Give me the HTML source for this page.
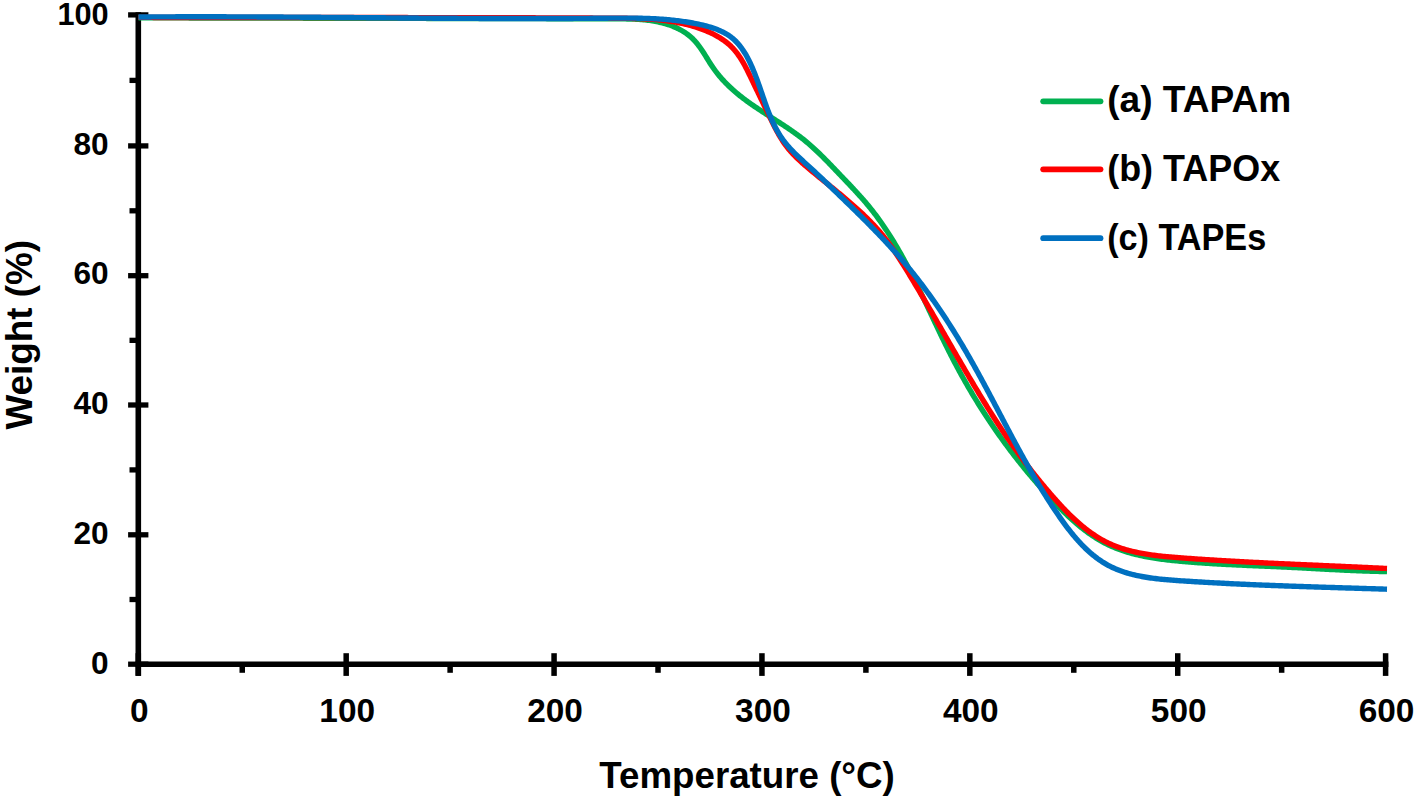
<!DOCTYPE html>
<html><head><meta charset="utf-8"><style>
html,body{margin:0;padding:0;background:#fff;}
body{width:1416px;height:799px;overflow:hidden;font-family:"Liberation Sans",sans-serif;}
svg{display:block;}
</style></head><body>
<svg width="1416" height="799" viewBox="0 0 1416 799">
<rect width="1416" height="799" fill="#fff"/>
<line x1="138.3" y1="12.3" x2="138.3" y2="675.6999999999999" stroke="#000" stroke-width="5.6"/>
<line x1="135.5" y1="664.3" x2="1388.3999999999999" y2="664.3" stroke="#000" stroke-width="5.6"/>
<line x1="128.1" y1="664.2" x2="148.4" y2="664.2" stroke="#000" stroke-width="5.3"/>
<line x1="128.1" y1="534.8" x2="148.4" y2="534.8" stroke="#000" stroke-width="5.3"/>
<line x1="128.1" y1="405.0" x2="148.4" y2="405.0" stroke="#000" stroke-width="5.3"/>
<line x1="128.1" y1="275.7" x2="148.4" y2="275.7" stroke="#000" stroke-width="5.3"/>
<line x1="128.1" y1="145.9" x2="148.4" y2="145.9" stroke="#000" stroke-width="5.3"/>
<line x1="128.1" y1="14.9" x2="148.4" y2="14.9" stroke="#000" stroke-width="5.3"/>
<line x1="129.5" y1="599.50" x2="138.3" y2="599.50" stroke="#000" stroke-width="5.3"/>
<line x1="129.5" y1="469.90" x2="138.3" y2="469.90" stroke="#000" stroke-width="5.3"/>
<line x1="129.5" y1="340.35" x2="138.3" y2="340.35" stroke="#000" stroke-width="5.3"/>
<line x1="129.5" y1="210.80" x2="138.3" y2="210.80" stroke="#000" stroke-width="5.3"/>
<line x1="129.5" y1="80.40" x2="138.3" y2="80.40" stroke="#000" stroke-width="5.3"/>
<line x1="138.30" y1="653.2" x2="138.30" y2="675.9" stroke="#000" stroke-width="5.5"/>
<line x1="346.18" y1="653.2" x2="346.18" y2="675.9" stroke="#000" stroke-width="5.5"/>
<line x1="554.07" y1="653.2" x2="554.07" y2="675.9" stroke="#000" stroke-width="5.5"/>
<line x1="761.95" y1="653.2" x2="761.95" y2="675.9" stroke="#000" stroke-width="5.5"/>
<line x1="969.83" y1="653.2" x2="969.83" y2="675.9" stroke="#000" stroke-width="5.5"/>
<line x1="1177.72" y1="653.2" x2="1177.72" y2="675.9" stroke="#000" stroke-width="5.5"/>
<line x1="1385.60" y1="653.2" x2="1385.60" y2="675.9" stroke="#000" stroke-width="5.5"/>
<line x1="242.24" y1="664.3" x2="242.24" y2="672.8" stroke="#000" stroke-width="5.5"/>
<line x1="450.12" y1="664.3" x2="450.12" y2="672.8" stroke="#000" stroke-width="5.5"/>
<line x1="658.01" y1="664.3" x2="658.01" y2="672.8" stroke="#000" stroke-width="5.5"/>
<line x1="865.89" y1="664.3" x2="865.89" y2="672.8" stroke="#000" stroke-width="5.5"/>
<line x1="1073.78" y1="664.3" x2="1073.78" y2="672.8" stroke="#000" stroke-width="5.5"/>
<line x1="1281.66" y1="664.3" x2="1281.66" y2="672.8" stroke="#000" stroke-width="5.5"/>
<path d="M138.50 17.80 L140.00 17.80 L141.50 17.81 L143.00 17.81 L144.50 17.82 L146.00 17.82 L147.50 17.82 L149.00 17.83 L150.50 17.83 L152.00 17.83 L153.50 17.84 L155.00 17.84 L156.50 17.85 L158.00 17.85 L159.50 17.85 L161.00 17.86 L162.50 17.86 L164.00 17.86 L165.50 17.87 L167.00 17.87 L168.50 17.88 L170.00 17.88 L171.50 17.88 L173.00 17.89 L174.50 17.89 L176.01 17.89 L177.51 17.90 L179.01 17.90 L180.51 17.90 L182.01 17.91 L183.51 17.91 L185.01 17.92 L186.52 17.92 L188.02 17.92 L189.52 17.93 L191.02 17.93 L192.52 17.93 L194.03 17.94 L195.53 17.94 L197.03 17.94 L198.53 17.95 L200.03 17.95 L201.54 17.95 L203.04 17.96 L204.54 17.96 L206.04 17.96 L207.55 17.97 L209.05 17.97 L210.55 17.98 L212.05 17.98 L213.56 17.98 L215.06 17.99 L216.56 17.99 L218.06 17.99 L219.57 18.00 L221.07 18.00 L222.57 18.00 L224.08 18.01 L225.58 18.01 L227.08 18.01 L228.58 18.02 L230.09 18.02 L231.59 18.02 L233.09 18.03 L234.60 18.03 L236.10 18.03 L237.60 18.04 L239.11 18.04 L240.61 18.04 L242.11 18.05 L243.62 18.05 L245.12 18.05 L246.62 18.06 L248.13 18.06 L249.63 18.06 L251.13 18.07 L252.64 18.07 L254.14 18.07 L255.64 18.08 L257.15 18.08 L258.65 18.08 L260.15 18.08 L261.66 18.09 L263.16 18.09 L264.67 18.09 L266.17 18.10 L267.67 18.10 L269.18 18.10 L270.68 18.11 L272.18 18.11 L273.69 18.11 L275.19 18.12 L276.69 18.12 L278.20 18.12 L279.70 18.13 L281.20 18.13 L282.71 18.13 L284.21 18.14 L285.72 18.14 L287.22 18.14 L288.72 18.15 L290.23 18.15 L291.73 18.15 L293.23 18.15 L294.74 18.16 L296.24 18.16 L297.74 18.16 L299.25 18.17 L300.75 18.17 L302.25 18.17 L303.76 18.18 L305.26 18.18 L306.76 18.18 L308.27 18.19 L309.77 18.19 L311.27 18.19 L312.78 18.20 L314.28 18.20 L315.78 18.20 L317.29 18.20 L318.79 18.21 L320.29 18.21 L321.80 18.21 L323.30 18.22 L324.80 18.22 L326.31 18.22 L327.81 18.23 L329.31 18.23 L330.82 18.23 L332.32 18.24 L333.82 18.24 L335.32 18.24 L336.83 18.24 L338.33 18.25 L339.83 18.25 L341.34 18.25 L342.84 18.26 L344.34 18.26 L345.84 18.26 L347.35 18.27 L348.85 18.27 L350.35 18.27 L351.85 18.27 L353.35 18.28 L354.86 18.28 L356.36 18.28 L357.86 18.29 L359.36 18.29 L360.87 18.29 L362.37 18.30 L363.87 18.30 L365.37 18.30 L366.87 18.31 L368.37 18.31 L369.88 18.31 L371.38 18.31 L372.88 18.32 L374.38 18.32 L375.88 18.32 L377.38 18.33 L378.88 18.33 L380.39 18.33 L381.89 18.34 L383.39 18.34 L384.89 18.34 L386.39 18.34 L387.89 18.35 L389.39 18.35 L390.89 18.35 L392.39 18.36 L393.89 18.36 L395.39 18.36 L396.89 18.37 L398.39 18.37 L399.89 18.37 L401.39 18.38 L402.89 18.38 L404.39 18.38 L405.89 18.38 L407.39 18.39 L408.89 18.39 L410.39 18.39 L411.89 18.40 L413.39 18.40 L414.89 18.40 L416.39 18.41 L417.89 18.41 L419.39 18.41 L420.89 18.41 L422.39 18.42 L423.89 18.42 L425.39 18.42 L426.89 18.43 L428.39 18.43 L429.89 18.43 L431.39 18.44 L432.89 18.44 L434.39 18.44 L435.89 18.45 L437.39 18.45 L438.89 18.45 L440.39 18.45 L441.88 18.46 L443.38 18.46 L444.88 18.46 L446.38 18.47 L447.88 18.47 L449.38 18.47 L450.88 18.48 L452.38 18.48 L453.88 18.48 L455.38 18.49 L456.88 18.49 L458.38 18.49 L459.88 18.49 L461.38 18.50 L462.88 18.50 L464.38 18.50 L465.88 18.51 L467.38 18.51 L468.88 18.51 L470.38 18.52 L471.88 18.52 L473.38 18.52 L474.88 18.53 L476.38 18.53 L477.88 18.53 L479.38 18.54 L480.88 18.54 L482.38 18.54 L483.88 18.54 L485.38 18.55 L486.88 18.55 L488.38 18.55 L489.88 18.56 L491.38 18.56 L492.88 18.56 L494.38 18.57 L495.88 18.57 L497.38 18.57 L498.89 18.58 L500.39 18.58 L501.89 18.58 L503.39 18.59 L504.89 18.59 L506.39 18.59 L507.89 18.59 L509.39 18.60 L510.90 18.60 L512.40 18.60 L513.90 18.61 L515.40 18.61 L516.90 18.61 L518.41 18.62 L519.91 18.62 L521.41 18.62 L522.91 18.63 L524.42 18.63 L525.92 18.63 L527.42 18.64 L528.93 18.64 L530.43 18.64 L531.93 18.65 L533.44 18.65 L534.94 18.65 L536.44 18.66 L537.95 18.66 L539.45 18.66 L540.95 18.67 L542.46 18.67 L543.96 18.67 L545.47 18.67 L546.97 18.68 L548.48 18.68 L549.98 18.68 L551.49 18.69 L552.99 18.69 L554.50 18.69 L556.00 18.70 L557.51 18.70 L559.02 18.70 L560.52 18.71 L562.03 18.71 L563.53 18.71 L565.04 18.72 L566.55 18.72 L568.05 18.72 L569.56 18.73 L571.07 18.73 L572.58 18.73 L574.08 18.74 L575.59 18.74 L577.10 18.74 L578.61 18.75 L580.12 18.75 L581.63 18.75 L583.13 18.76 L584.64 18.76 L586.15 18.76 L587.66 18.77 L589.17 18.77 L590.68 18.77 L592.19 18.78 L593.70 18.78 L595.21 18.78 L596.72 18.79 L598.23 18.79 L599.74 18.79 L601.26 18.80 L602.77 18.80 L604.28 18.80 L605.79 18.81 L607.30 18.81 L608.82 18.81 L610.33 18.82 L611.84 18.82 L613.35 18.82 L614.87 18.83 L616.38 18.83 L617.90 18.84 L619.41 18.84 L620.92 18.85 L622.43 18.87 L623.95 18.88 L625.46 18.91 L626.97 18.93 L628.47 18.97 L629.98 19.01 L631.49 19.05 L632.99 19.11 L634.49 19.17 L635.99 19.24 L637.49 19.33 L638.98 19.42 L640.48 19.53 L641.97 19.64 L643.45 19.77 L644.94 19.92 L646.42 20.07 L647.90 20.25 L649.37 20.44 L650.84 20.64 L652.31 20.86 L653.77 21.10 L655.23 21.35 L656.68 21.63 L658.13 21.92 L659.57 22.24 L661.01 22.57 L662.45 22.93 L663.88 23.31 L665.30 23.71 L666.72 24.14 L668.13 24.59 L669.53 25.06 L670.93 25.56 L672.31 26.08 L673.68 26.63 L675.04 27.20 L676.38 27.81 L677.71 28.43 L679.03 29.09 L680.33 29.77 L681.61 30.49 L682.87 31.23 L684.11 32.00 L685.33 32.80 L686.54 33.63 L687.71 34.49 L688.87 35.38 L690.00 36.31 L691.10 37.26 L692.18 38.25 L693.23 39.27 L694.25 40.33 L695.25 41.41 L696.22 42.53 L697.16 43.67 L698.08 44.85 L698.99 46.04 L699.87 47.25 L700.74 48.49 L701.59 49.74 L702.43 51.01 L703.27 52.29 L704.09 53.57 L704.91 54.87 L705.72 56.18 L706.53 57.48 L707.34 58.79 L708.15 60.10 L708.96 61.41 L709.78 62.71 L710.61 64.00 L711.44 65.28 L712.29 66.56 L713.15 67.81 L714.03 69.06 L714.92 70.29 L715.82 71.50 L716.74 72.70 L717.67 73.88 L718.62 75.05 L719.57 76.20 L720.55 77.34 L721.53 78.47 L722.53 79.58 L723.54 80.69 L724.56 81.77 L725.59 82.85 L726.64 83.91 L727.69 84.96 L728.76 86.00 L729.84 87.03 L730.93 88.04 L732.03 89.05 L733.14 90.04 L734.26 91.03 L735.39 92.00 L736.52 92.97 L737.67 93.92 L738.83 94.86 L739.99 95.80 L741.16 96.73 L742.34 97.64 L743.53 98.55 L744.73 99.45 L745.93 100.35 L747.14 101.23 L748.35 102.11 L749.57 102.99 L750.80 103.85 L752.03 104.71 L753.27 105.57 L754.51 106.42 L755.76 107.26 L757.01 108.10 L758.27 108.94 L759.53 109.77 L760.79 110.60 L762.05 111.43 L763.32 112.25 L764.59 113.07 L765.86 113.89 L767.13 114.71 L768.40 115.52 L769.68 116.34 L770.95 117.15 L772.23 117.96 L773.50 118.78 L774.78 119.59 L776.05 120.41 L777.32 121.22 L778.59 122.04 L779.86 122.86 L781.13 123.68 L782.39 124.50 L783.65 125.33 L784.91 126.16 L786.17 126.99 L787.42 127.83 L788.67 128.67 L789.91 129.52 L791.15 130.37 L792.38 131.23 L793.61 132.09 L794.83 132.96 L796.04 133.83 L797.25 134.71 L798.46 135.60 L799.65 136.50 L800.84 137.40 L802.02 138.31 L803.19 139.23 L804.36 140.16 L805.51 141.10 L806.66 142.05 L807.80 143.00 L808.93 143.97 L810.05 144.94 L811.17 145.92 L812.28 146.91 L813.38 147.91 L814.47 148.91 L815.56 149.92 L816.65 150.94 L817.72 151.96 L818.80 152.99 L819.87 154.03 L820.93 155.07 L821.99 156.11 L823.04 157.17 L824.10 158.22 L825.15 159.28 L826.19 160.34 L827.24 161.41 L828.28 162.48 L829.32 163.55 L830.36 164.63 L831.39 165.71 L832.43 166.79 L833.47 167.88 L834.50 168.96 L835.54 170.05 L836.57 171.14 L837.61 172.22 L838.65 173.31 L839.69 174.40 L840.73 175.49 L841.77 176.58 L842.81 177.67 L843.85 178.76 L844.90 179.86 L845.94 180.95 L846.98 182.04 L848.03 183.14 L849.07 184.23 L850.11 185.33 L851.14 186.43 L852.18 187.53 L853.21 188.64 L854.25 189.74 L855.27 190.85 L856.30 191.97 L857.32 193.08 L858.34 194.20 L859.35 195.32 L860.36 196.44 L861.36 197.57 L862.36 198.70 L863.35 199.83 L864.34 200.97 L865.32 202.12 L866.30 203.26 L867.27 204.42 L868.23 205.57 L869.18 206.73 L870.13 207.90 L871.06 209.07 L872.00 210.25 L872.92 211.43 L873.84 212.61 L874.75 213.80 L875.65 214.99 L876.55 216.19 L877.44 217.39 L878.32 218.60 L879.20 219.81 L880.07 221.02 L880.94 222.24 L881.80 223.47 L882.65 224.69 L883.50 225.92 L884.34 227.16 L885.17 228.40 L886.00 229.64 L886.82 230.88 L887.64 232.13 L888.45 233.39 L889.26 234.64 L890.06 235.90 L890.86 237.17 L891.65 238.43 L892.43 239.70 L893.22 240.98 L893.99 242.25 L894.76 243.53 L895.53 244.82 L896.29 246.10 L897.05 247.39 L897.80 248.68 L898.55 249.98 L899.30 251.27 L900.04 252.57 L900.77 253.88 L901.50 255.18 L902.23 256.49 L902.96 257.80 L903.68 259.11 L904.39 260.43 L905.11 261.75 L905.82 263.06 L906.53 264.39 L907.23 265.71 L907.93 267.04 L908.63 268.36 L909.32 269.69 L910.01 271.03 L910.70 272.36 L911.39 273.70 L912.07 275.03 L912.75 276.37 L913.43 277.71 L914.10 279.05 L914.77 280.40 L915.45 281.74 L916.11 283.09 L916.78 284.44 L917.45 285.79 L918.11 287.14 L918.77 288.49 L919.43 289.84 L920.09 291.20 L920.74 292.55 L921.40 293.91 L922.05 295.26 L922.70 296.62 L923.35 297.98 L924.00 299.34 L924.65 300.70 L925.30 302.06 L925.95 303.42 L926.59 304.78 L927.24 306.14 L927.89 307.50 L928.53 308.87 L929.17 310.23 L929.82 311.59 L930.46 312.95 L931.11 314.32 L931.75 315.68 L932.39 317.04 L933.04 318.41 L933.68 319.77 L934.33 321.13 L934.97 322.49 L935.62 323.86 L936.26 325.22 L936.91 326.58 L937.56 327.94 L938.20 329.30 L938.85 330.66 L939.50 332.02 L940.16 333.38 L940.81 334.73 L941.46 336.09 L942.12 337.45 L942.77 338.80 L943.43 340.15 L944.09 341.51 L944.75 342.86 L945.42 344.21 L946.08 345.56 L946.75 346.91 L947.42 348.25 L948.09 349.60 L948.77 350.94 L949.44 352.28 L950.12 353.62 L950.80 354.96 L951.49 356.30 L952.17 357.63 L952.86 358.97 L953.55 360.30 L954.25 361.63 L954.95 362.96 L955.65 364.28 L956.35 365.61 L957.06 366.93 L957.77 368.25 L958.48 369.57 L959.19 370.89 L959.91 372.20 L960.63 373.52 L961.35 374.83 L962.08 376.14 L962.81 377.45 L963.54 378.75 L964.27 380.06 L965.01 381.36 L965.75 382.66 L966.50 383.96 L967.24 385.26 L967.99 386.55 L968.74 387.85 L969.50 389.14 L970.25 390.43 L971.01 391.71 L971.78 393.00 L972.54 394.28 L973.31 395.57 L974.09 396.85 L974.86 398.12 L975.64 399.40 L976.42 400.67 L977.20 401.95 L977.99 403.22 L978.78 404.49 L979.57 405.75 L980.37 407.02 L981.17 408.28 L981.97 409.54 L982.77 410.80 L983.58 412.06 L984.39 413.31 L985.20 414.57 L986.02 415.82 L986.84 417.07 L987.66 418.31 L988.48 419.56 L989.31 420.80 L990.14 422.04 L990.98 423.28 L991.81 424.52 L992.65 425.76 L993.50 426.99 L994.34 428.22 L995.19 429.45 L996.04 430.68 L996.90 431.91 L997.76 433.13 L998.62 434.35 L999.48 435.57 L1000.35 436.79 L1001.22 438.01 L1002.09 439.22 L1002.97 440.44 L1003.85 441.65 L1004.73 442.85 L1005.61 444.06 L1006.50 445.26 L1007.39 446.47 L1008.29 447.67 L1009.19 448.86 L1010.09 450.06 L1010.99 451.26 L1011.90 452.45 L1012.81 453.64 L1013.72 454.83 L1014.64 456.01 L1015.55 457.20 L1016.48 458.38 L1017.40 459.56 L1018.33 460.74 L1019.26 461.91 L1020.20 463.09 L1021.13 464.26 L1022.07 465.43 L1023.02 466.60 L1023.97 467.76 L1024.92 468.93 L1025.87 470.09 L1026.83 471.25 L1027.79 472.40 L1028.75 473.56 L1029.71 474.71 L1030.68 475.86 L1031.65 477.01 L1032.63 478.16 L1033.61 479.31 L1034.59 480.45 L1035.58 481.59 L1036.56 482.73 L1037.55 483.87 L1038.55 485.00 L1039.55 486.13 L1040.55 487.26 L1041.55 488.39 L1042.56 489.52 L1043.57 490.64 L1044.58 491.76 L1045.60 492.88 L1046.62 494.00 L1047.64 495.12 L1048.67 496.23 L1049.70 497.34 L1050.73 498.45 L1051.77 499.56 L1052.81 500.66 L1053.85 501.77 L1054.90 502.87 L1055.95 503.96 L1057.00 505.05 L1058.06 506.14 L1059.12 507.22 L1060.19 508.30 L1061.26 509.38 L1062.33 510.45 L1063.41 511.51 L1064.49 512.57 L1065.58 513.62 L1066.67 514.67 L1067.77 515.71 L1068.87 516.74 L1069.98 517.77 L1071.09 518.78 L1072.21 519.79 L1073.33 520.80 L1074.46 521.79 L1075.59 522.77 L1076.73 523.75 L1077.88 524.72 L1079.03 525.67 L1080.19 526.62 L1081.35 527.56 L1082.52 528.48 L1083.69 529.40 L1084.88 530.30 L1086.06 531.20 L1087.26 532.08 L1088.46 532.95 L1089.67 533.81 L1090.88 534.65 L1092.11 535.48 L1093.34 536.30 L1094.57 537.11 L1095.82 537.90 L1097.07 538.68 L1098.33 539.44 L1099.59 540.19 L1100.87 540.92 L1102.15 541.64 L1103.44 542.34 L1104.74 543.03 L1106.04 543.70 L1107.36 544.36 L1108.68 544.99 L1110.01 545.62 L1111.35 546.22 L1112.70 546.81 L1114.06 547.38 L1115.42 547.94 L1116.79 548.48 L1118.16 549.01 L1119.55 549.52 L1120.94 550.02 L1122.34 550.51 L1123.74 550.98 L1125.15 551.43 L1126.57 551.88 L1127.99 552.31 L1129.42 552.72 L1130.85 553.13 L1132.29 553.52 L1133.73 553.90 L1135.18 554.27 L1136.64 554.63 L1138.09 554.97 L1139.56 555.31 L1141.02 555.63 L1142.50 555.95 L1143.97 556.25 L1145.45 556.55 L1146.93 556.83 L1148.42 557.11 L1149.91 557.37 L1151.40 557.63 L1152.89 557.88 L1154.39 558.12 L1155.89 558.35 L1157.39 558.58 L1158.90 558.80 L1160.40 559.01 L1161.91 559.21 L1163.42 559.41 L1164.93 559.60 L1166.44 559.78 L1167.96 559.96 L1169.47 560.13 L1170.99 560.30 L1172.50 560.46 L1174.02 560.62 L1175.53 560.78 L1177.05 560.93 L1178.56 561.07 L1180.08 561.21 L1181.59 561.35 L1183.10 561.49 L1184.62 561.62 L1186.13 561.75 L1187.64 561.88 L1189.15 562.00 L1190.66 562.13 L1192.16 562.25 L1193.67 562.36 L1195.17 562.48 L1196.68 562.59 L1198.18 562.70 L1199.69 562.81 L1201.19 562.92 L1202.69 563.02 L1204.19 563.12 L1205.69 563.22 L1207.19 563.32 L1208.69 563.42 L1210.19 563.51 L1211.68 563.60 L1213.18 563.69 L1214.68 563.78 L1216.17 563.87 L1217.67 563.96 L1219.16 564.04 L1220.66 564.12 L1222.15 564.20 L1223.64 564.28 L1225.14 564.36 L1226.63 564.44 L1228.12 564.52 L1229.61 564.59 L1231.11 564.67 L1232.60 564.74 L1234.09 564.81 L1235.58 564.88 L1237.07 564.95 L1238.56 565.02 L1240.05 565.09 L1241.54 565.16 L1243.03 565.23 L1244.52 565.29 L1246.01 565.36 L1247.50 565.43 L1248.99 565.49 L1250.48 565.56 L1251.97 565.62 L1253.47 565.69 L1254.96 565.75 L1256.45 565.82 L1257.94 565.88 L1259.43 565.94 L1260.92 566.01 L1262.41 566.07 L1263.90 566.14 L1265.40 566.20 L1266.89 566.26 L1268.38 566.33 L1269.87 566.39 L1271.37 566.46 L1272.86 566.53 L1274.36 566.59 L1275.85 566.66 L1277.35 566.73 L1278.84 566.79 L1280.34 566.86 L1281.84 566.93 L1283.33 567.00 L1284.83 567.07 L1286.33 567.15 L1287.83 567.22 L1289.33 567.29 L1290.83 567.37 L1292.33 567.44 L1293.83 567.52 L1295.34 567.60 L1296.84 567.67 L1298.34 567.75 L1299.85 567.83 L1301.35 567.91 L1302.85 567.99 L1304.36 568.07 L1305.86 568.15 L1307.37 568.23 L1308.88 568.31 L1310.38 568.39 L1311.89 568.47 L1313.39 568.55 L1314.90 568.63 L1316.41 568.71 L1317.92 568.79 L1319.42 568.87 L1320.93 568.95 L1322.44 569.03 L1323.94 569.11 L1325.45 569.19 L1326.96 569.27 L1328.47 569.35 L1329.97 569.43 L1331.48 569.51 L1332.99 569.58 L1334.50 569.66 L1336.00 569.74 L1337.51 569.81 L1339.02 569.89 L1340.52 569.96 L1342.03 570.03 L1343.54 570.10 L1345.04 570.18 L1346.55 570.25 L1348.05 570.31 L1349.56 570.38 L1351.06 570.45 L1352.57 570.52 L1354.07 570.58 L1355.57 570.64 L1357.08 570.71 L1358.58 570.77 L1360.08 570.83 L1361.58 570.88 L1363.08 570.94 L1364.58 570.99 L1366.08 571.05 L1367.58 571.10 L1369.08 571.15 L1370.58 571.20 L1372.07 571.24 L1373.57 571.29 L1375.07 571.33 L1376.56 571.37 L1378.05 571.41 L1379.55 571.45 L1381.04 571.48 L1382.53 571.51 L1384.02 571.55 L1385.51 571.57 L1387.00 571.60" fill="none" stroke="#00B050" stroke-width="5.4" stroke-linejoin="round" stroke-linecap="butt"/>
<path d="M138.50 17.40 L140.00 17.40 L141.51 17.41 L143.01 17.41 L144.52 17.41 L146.02 17.41 L147.53 17.42 L149.03 17.42 L150.53 17.42 L152.04 17.42 L153.54 17.43 L155.04 17.43 L156.55 17.43 L158.05 17.44 L159.56 17.44 L161.06 17.44 L162.56 17.44 L164.07 17.44 L165.57 17.45 L167.07 17.45 L168.58 17.45 L170.08 17.45 L171.58 17.46 L173.09 17.46 L174.59 17.46 L176.09 17.46 L177.60 17.46 L179.10 17.47 L180.60 17.47 L182.11 17.47 L183.61 17.47 L185.11 17.47 L186.61 17.47 L188.12 17.48 L189.62 17.48 L191.12 17.48 L192.63 17.48 L194.13 17.48 L195.63 17.48 L197.13 17.49 L198.64 17.49 L200.14 17.49 L201.64 17.49 L203.14 17.49 L204.65 17.49 L206.15 17.49 L207.65 17.49 L209.15 17.50 L210.65 17.50 L212.16 17.50 L213.66 17.50 L215.16 17.50 L216.66 17.50 L218.16 17.50 L219.67 17.50 L221.17 17.50 L222.67 17.51 L224.17 17.51 L225.67 17.51 L227.18 17.51 L228.68 17.51 L230.18 17.51 L231.68 17.51 L233.18 17.51 L234.68 17.51 L236.19 17.51 L237.69 17.51 L239.19 17.52 L240.69 17.52 L242.19 17.52 L243.69 17.52 L245.19 17.52 L246.70 17.52 L248.20 17.52 L249.70 17.52 L251.20 17.52 L252.70 17.52 L254.20 17.52 L255.70 17.52 L257.20 17.52 L258.71 17.52 L260.21 17.52 L261.71 17.52 L263.21 17.52 L264.71 17.53 L266.21 17.53 L267.71 17.53 L269.21 17.53 L270.71 17.53 L272.21 17.53 L273.72 17.53 L275.22 17.53 L276.72 17.53 L278.22 17.53 L279.72 17.53 L281.22 17.53 L282.72 17.53 L284.22 17.53 L285.72 17.53 L287.22 17.53 L288.72 17.53 L290.22 17.53 L291.73 17.53 L293.23 17.53 L294.73 17.53 L296.23 17.53 L297.73 17.53 L299.23 17.53 L300.73 17.53 L302.23 17.53 L303.73 17.53 L305.23 17.53 L306.73 17.53 L308.23 17.54 L309.73 17.54 L311.23 17.54 L312.73 17.54 L314.23 17.54 L315.74 17.54 L317.24 17.54 L318.74 17.54 L320.24 17.54 L321.74 17.54 L323.24 17.54 L324.74 17.54 L326.24 17.54 L327.74 17.54 L329.24 17.54 L330.74 17.54 L332.24 17.54 L333.74 17.54 L335.24 17.54 L336.74 17.54 L338.24 17.54 L339.74 17.54 L341.24 17.54 L342.74 17.54 L344.24 17.54 L345.74 17.54 L347.25 17.54 L348.75 17.54 L350.25 17.54 L351.75 17.54 L353.25 17.55 L354.75 17.55 L356.25 17.55 L357.75 17.55 L359.25 17.55 L360.75 17.55 L362.25 17.55 L363.75 17.55 L365.25 17.55 L366.75 17.55 L368.25 17.55 L369.75 17.55 L371.25 17.55 L372.75 17.55 L374.25 17.55 L375.75 17.55 L377.25 17.56 L378.76 17.56 L380.26 17.56 L381.76 17.56 L383.26 17.56 L384.76 17.56 L386.26 17.56 L387.76 17.56 L389.26 17.56 L390.76 17.56 L392.26 17.56 L393.76 17.56 L395.26 17.57 L396.76 17.57 L398.26 17.57 L399.76 17.57 L401.27 17.57 L402.77 17.57 L404.27 17.57 L405.77 17.57 L407.27 17.57 L408.77 17.58 L410.27 17.58 L411.77 17.58 L413.27 17.58 L414.77 17.58 L416.27 17.58 L417.77 17.58 L419.28 17.59 L420.78 17.59 L422.28 17.59 L423.78 17.59 L425.28 17.59 L426.78 17.59 L428.28 17.59 L429.78 17.60 L431.28 17.60 L432.79 17.60 L434.29 17.60 L435.79 17.60 L437.29 17.60 L438.79 17.61 L440.29 17.61 L441.79 17.61 L443.29 17.61 L444.80 17.61 L446.30 17.62 L447.80 17.62 L449.30 17.62 L450.80 17.62 L452.30 17.63 L453.81 17.63 L455.31 17.63 L456.81 17.63 L458.31 17.64 L459.81 17.64 L461.31 17.64 L462.82 17.64 L464.32 17.65 L465.82 17.65 L467.32 17.65 L468.82 17.65 L470.33 17.66 L471.83 17.66 L473.33 17.66 L474.83 17.66 L476.33 17.67 L477.84 17.67 L479.34 17.67 L480.84 17.68 L482.34 17.68 L483.84 17.68 L485.35 17.69 L486.85 17.69 L488.35 17.69 L489.85 17.70 L491.36 17.70 L492.86 17.70 L494.36 17.71 L495.86 17.71 L497.37 17.71 L498.87 17.72 L500.37 17.72 L501.88 17.73 L503.38 17.73 L504.88 17.73 L506.38 17.74 L507.89 17.74 L509.39 17.75 L510.89 17.75 L512.40 17.75 L513.90 17.76 L515.40 17.76 L516.91 17.77 L518.41 17.77 L519.91 17.78 L521.42 17.78 L522.92 17.79 L524.42 17.79 L525.93 17.79 L527.43 17.80 L528.93 17.80 L530.44 17.81 L531.94 17.81 L533.45 17.82 L534.95 17.82 L536.45 17.83 L537.96 17.84 L539.46 17.84 L540.97 17.85 L542.47 17.85 L543.97 17.86 L545.48 17.86 L546.98 17.87 L548.49 17.87 L549.99 17.88 L551.50 17.89 L553.00 17.89 L554.51 17.90 L556.01 17.90 L557.51 17.91 L559.02 17.92 L560.52 17.92 L562.03 17.93 L563.53 17.94 L565.04 17.94 L566.54 17.95 L568.05 17.96 L569.56 17.96 L571.06 17.97 L572.57 17.98 L574.07 17.98 L575.58 17.99 L577.08 18.00 L578.59 18.00 L580.09 18.01 L581.60 18.02 L583.11 18.03 L584.61 18.03 L586.12 18.04 L587.62 18.05 L589.13 18.06 L590.64 18.06 L592.14 18.07 L593.65 18.08 L595.16 18.09 L596.66 18.10 L598.17 18.11 L599.68 18.11 L601.18 18.12 L602.69 18.13 L604.20 18.14 L605.70 18.15 L607.21 18.16 L608.72 18.17 L610.22 18.17 L611.73 18.18 L613.24 18.19 L614.75 18.20 L616.25 18.21 L617.76 18.22 L619.27 18.23 L620.77 18.25 L622.28 18.26 L623.79 18.28 L625.29 18.30 L626.80 18.32 L628.31 18.34 L629.81 18.37 L631.32 18.40 L632.82 18.43 L634.32 18.47 L635.82 18.51 L637.33 18.55 L638.83 18.61 L640.33 18.66 L641.83 18.72 L643.33 18.79 L644.82 18.86 L646.32 18.94 L647.81 19.02 L649.31 19.11 L650.80 19.21 L652.29 19.31 L653.78 19.43 L655.27 19.55 L656.76 19.68 L658.24 19.81 L659.73 19.96 L661.21 20.11 L662.69 20.27 L664.17 20.45 L665.65 20.63 L667.12 20.82 L668.60 21.02 L670.07 21.24 L671.54 21.46 L673.01 21.69 L674.47 21.94 L675.93 22.20 L677.40 22.47 L678.85 22.75 L680.31 23.04 L681.77 23.35 L683.22 23.67 L684.67 24.01 L686.11 24.35 L687.56 24.71 L689.00 25.09 L690.44 25.48 L691.88 25.88 L693.31 26.30 L694.74 26.74 L696.17 27.19 L697.59 27.65 L699.01 28.14 L700.43 28.63 L701.85 29.15 L703.26 29.68 L704.67 30.23 L706.07 30.80 L707.46 31.39 L708.85 31.99 L710.23 32.61 L711.59 33.26 L712.95 33.92 L714.29 34.60 L715.62 35.31 L716.94 36.04 L718.24 36.78 L719.53 37.55 L720.79 38.35 L722.04 39.16 L723.27 40.00 L724.48 40.86 L725.66 41.75 L726.83 42.66 L727.97 43.60 L729.08 44.56 L730.17 45.55 L731.23 46.57 L732.26 47.61 L733.27 48.68 L734.24 49.77 L735.20 50.89 L736.12 52.03 L737.02 53.20 L737.90 54.38 L738.75 55.59 L739.59 56.81 L740.40 58.06 L741.20 59.32 L741.98 60.59 L742.74 61.88 L743.49 63.18 L744.23 64.50 L744.95 65.82 L745.66 67.16 L746.36 68.50 L747.05 69.85 L747.73 71.21 L748.40 72.57 L749.07 73.94 L749.73 75.30 L750.39 76.67 L751.05 78.05 L751.71 79.42 L752.36 80.78 L753.02 82.15 L753.67 83.52 L754.33 84.88 L754.98 86.25 L755.64 87.61 L756.29 88.97 L756.94 90.33 L757.60 91.69 L758.25 93.05 L758.90 94.41 L759.55 95.77 L760.21 97.12 L760.86 98.48 L761.51 99.84 L762.16 101.19 L762.82 102.55 L763.47 103.90 L764.12 105.26 L764.77 106.61 L765.42 107.97 L766.08 109.33 L766.73 110.68 L767.38 112.04 L768.04 113.40 L768.69 114.75 L769.34 116.11 L770.00 117.47 L770.65 118.83 L771.31 120.19 L771.97 121.54 L772.64 122.89 L773.31 124.24 L773.98 125.59 L774.67 126.93 L775.36 128.27 L776.05 129.60 L776.76 130.92 L777.48 132.23 L778.20 133.54 L778.94 134.84 L779.69 136.12 L780.45 137.40 L781.23 138.67 L782.02 139.92 L782.82 141.17 L783.65 142.39 L784.49 143.61 L785.34 144.81 L786.22 145.99 L787.11 147.16 L788.03 148.31 L788.96 149.45 L789.91 150.57 L790.88 151.68 L791.86 152.78 L792.86 153.86 L793.87 154.93 L794.90 155.99 L795.94 157.03 L797.00 158.07 L798.06 159.10 L799.14 160.12 L800.23 161.12 L801.32 162.13 L802.43 163.12 L803.54 164.11 L804.67 165.09 L805.80 166.06 L806.93 167.03 L808.07 168.00 L809.22 168.96 L810.37 169.92 L811.52 170.88 L812.68 171.83 L813.83 172.79 L814.99 173.74 L816.15 174.69 L817.32 175.64 L818.48 176.59 L819.65 177.54 L820.81 178.48 L821.98 179.43 L823.15 180.38 L824.32 181.33 L825.49 182.27 L826.66 183.22 L827.83 184.17 L829.00 185.12 L830.17 186.07 L831.34 187.02 L832.51 187.97 L833.68 188.92 L834.84 189.87 L836.01 190.83 L837.18 191.79 L838.34 192.74 L839.50 193.70 L840.66 194.67 L841.82 195.63 L842.98 196.60 L844.13 197.57 L845.29 198.54 L846.44 199.51 L847.58 200.49 L848.73 201.47 L849.87 202.45 L851.01 203.44 L852.14 204.43 L853.28 205.42 L854.40 206.42 L855.53 207.42 L856.65 208.43 L857.76 209.44 L858.87 210.45 L859.98 211.47 L861.08 212.50 L862.17 213.52 L863.26 214.56 L864.35 215.59 L865.42 216.64 L866.50 217.69 L867.56 218.74 L868.62 219.80 L869.67 220.87 L870.72 221.94 L871.76 223.02 L872.79 224.10 L873.82 225.19 L874.83 226.29 L875.84 227.39 L876.84 228.50 L877.84 229.62 L878.82 230.74 L879.80 231.87 L880.76 233.01 L881.72 234.16 L882.67 235.31 L883.61 236.47 L884.54 237.64 L885.47 238.82 L886.38 240.00 L887.29 241.19 L888.19 242.39 L889.08 243.59 L889.97 244.79 L890.84 246.01 L891.71 247.23 L892.58 248.45 L893.43 249.68 L894.29 250.91 L895.13 252.15 L895.97 253.39 L896.80 254.64 L897.63 255.89 L898.46 257.15 L899.28 258.41 L900.09 259.67 L900.90 260.93 L901.71 262.20 L902.51 263.47 L903.31 264.74 L904.11 266.02 L904.90 267.30 L905.69 268.58 L906.47 269.86 L907.26 271.14 L908.04 272.42 L908.82 273.71 L909.60 274.99 L910.38 276.28 L911.15 277.57 L911.93 278.85 L912.70 280.14 L913.47 281.43 L914.24 282.72 L915.01 284.00 L915.78 285.29 L916.55 286.58 L917.31 287.87 L918.08 289.16 L918.84 290.45 L919.61 291.74 L920.37 293.03 L921.13 294.32 L921.89 295.61 L922.65 296.90 L923.41 298.20 L924.17 299.49 L924.92 300.78 L925.68 302.07 L926.44 303.37 L927.19 304.66 L927.95 305.95 L928.70 307.25 L929.45 308.54 L930.21 309.83 L930.96 311.13 L931.71 312.42 L932.46 313.72 L933.21 315.01 L933.96 316.31 L934.71 317.60 L935.46 318.90 L936.21 320.20 L936.96 321.49 L937.71 322.79 L938.45 324.08 L939.20 325.38 L939.95 326.68 L940.70 327.97 L941.45 329.27 L942.19 330.57 L942.94 331.87 L943.69 333.16 L944.43 334.46 L945.18 335.76 L945.93 337.06 L946.68 338.36 L947.42 339.65 L948.17 340.95 L948.92 342.25 L949.67 343.55 L950.42 344.85 L951.16 346.15 L951.91 347.44 L952.66 348.74 L953.41 350.04 L954.16 351.34 L954.91 352.64 L955.66 353.94 L956.41 355.24 L957.16 356.54 L957.92 357.84 L958.67 359.13 L959.42 360.43 L960.18 361.73 L960.93 363.03 L961.68 364.33 L962.44 365.63 L963.20 366.92 L963.95 368.22 L964.71 369.52 L965.47 370.82 L966.23 372.11 L966.99 373.41 L967.75 374.70 L968.51 376.00 L969.28 377.29 L970.04 378.59 L970.81 379.88 L971.57 381.17 L972.34 382.46 L973.11 383.75 L973.88 385.04 L974.65 386.33 L975.42 387.62 L976.19 388.91 L976.97 390.20 L977.74 391.48 L978.52 392.77 L979.30 394.05 L980.08 395.33 L980.86 396.62 L981.64 397.90 L982.42 399.18 L983.21 400.45 L984.00 401.73 L984.78 403.01 L985.57 404.28 L986.37 405.55 L987.16 406.83 L987.95 408.10 L988.75 409.37 L989.55 410.63 L990.35 411.90 L991.15 413.17 L991.95 414.43 L992.76 415.69 L993.56 416.95 L994.37 418.21 L995.18 419.47 L996.00 420.72 L996.81 421.97 L997.63 423.23 L998.45 424.47 L999.27 425.72 L1000.09 426.97 L1000.92 428.21 L1001.74 429.45 L1002.57 430.70 L1003.40 431.93 L1004.24 433.17 L1005.07 434.40 L1005.91 435.64 L1006.75 436.87 L1007.60 438.10 L1008.44 439.33 L1009.29 440.55 L1010.14 441.77 L1010.99 443.00 L1011.85 444.22 L1012.71 445.44 L1013.57 446.65 L1014.43 447.87 L1015.30 449.08 L1016.16 450.29 L1017.04 451.50 L1017.91 452.71 L1018.79 453.91 L1019.67 455.12 L1020.55 456.32 L1021.43 457.52 L1022.32 458.72 L1023.21 459.92 L1024.11 461.11 L1025.00 462.31 L1025.91 463.50 L1026.81 464.69 L1027.71 465.88 L1028.62 467.07 L1029.54 468.25 L1030.45 469.44 L1031.37 470.62 L1032.29 471.80 L1033.22 472.98 L1034.15 474.15 L1035.08 475.33 L1036.02 476.50 L1036.96 477.67 L1037.90 478.84 L1038.85 480.01 L1039.80 481.18 L1040.75 482.35 L1041.71 483.51 L1042.67 484.67 L1043.63 485.83 L1044.60 486.99 L1045.57 488.15 L1046.55 489.31 L1047.53 490.46 L1048.51 491.61 L1049.49 492.76 L1050.49 493.91 L1051.48 495.06 L1052.48 496.21 L1053.48 497.35 L1054.49 498.50 L1055.50 499.64 L1056.51 500.77 L1057.53 501.91 L1058.56 503.04 L1059.59 504.16 L1060.62 505.28 L1061.66 506.40 L1062.70 507.51 L1063.75 508.62 L1064.80 509.72 L1065.86 510.81 L1066.93 511.90 L1068.00 512.98 L1069.07 514.05 L1070.15 515.12 L1071.24 516.18 L1072.33 517.23 L1073.43 518.27 L1074.54 519.30 L1075.65 520.32 L1076.77 521.34 L1077.89 522.34 L1079.02 523.33 L1080.16 524.31 L1081.30 525.28 L1082.45 526.24 L1083.61 527.19 L1084.77 528.13 L1085.94 529.05 L1087.12 529.96 L1088.31 530.85 L1089.50 531.74 L1090.70 532.60 L1091.91 533.46 L1093.12 534.30 L1094.35 535.12 L1095.58 535.93 L1096.82 536.72 L1098.07 537.50 L1099.32 538.26 L1100.59 539.00 L1101.86 539.73 L1103.14 540.43 L1104.43 541.13 L1105.73 541.80 L1107.04 542.45 L1108.36 543.08 L1109.68 543.70 L1111.02 544.30 L1112.36 544.87 L1113.71 545.44 L1115.07 545.98 L1116.44 546.50 L1117.81 547.01 L1119.20 547.50 L1120.59 547.98 L1121.98 548.44 L1123.39 548.89 L1124.80 549.32 L1126.21 549.73 L1127.64 550.13 L1129.07 550.52 L1130.50 550.89 L1131.95 551.25 L1133.39 551.59 L1134.85 551.93 L1136.30 552.25 L1137.77 552.56 L1139.23 552.86 L1140.71 553.14 L1142.18 553.42 L1143.66 553.68 L1145.15 553.94 L1146.64 554.18 L1148.13 554.42 L1149.63 554.64 L1151.13 554.86 L1152.63 555.07 L1154.13 555.27 L1155.64 555.46 L1157.15 555.65 L1158.67 555.82 L1160.18 556.00 L1161.70 556.16 L1163.22 556.32 L1164.74 556.47 L1166.26 556.62 L1167.78 556.76 L1169.31 556.90 L1170.83 557.04 L1172.36 557.17 L1173.88 557.29 L1175.41 557.42 L1176.93 557.54 L1178.46 557.66 L1179.98 557.77 L1181.51 557.89 L1183.03 558.00 L1184.56 558.11 L1186.08 558.22 L1187.60 558.33 L1189.12 558.44 L1190.64 558.54 L1192.16 558.65 L1193.67 558.76 L1195.19 558.86 L1196.70 558.97 L1198.22 559.07 L1199.73 559.17 L1201.24 559.27 L1202.76 559.37 L1204.27 559.47 L1205.78 559.57 L1207.29 559.67 L1208.80 559.76 L1210.30 559.86 L1211.81 559.95 L1213.32 560.05 L1214.82 560.14 L1216.33 560.24 L1217.83 560.33 L1219.33 560.42 L1220.84 560.51 L1222.34 560.60 L1223.84 560.69 L1225.34 560.78 L1226.84 560.86 L1228.34 560.95 L1229.84 561.04 L1231.34 561.12 L1232.84 561.21 L1234.33 561.29 L1235.83 561.38 L1237.33 561.46 L1238.82 561.54 L1240.32 561.62 L1241.81 561.70 L1243.31 561.79 L1244.80 561.87 L1246.30 561.95 L1247.79 562.02 L1249.28 562.10 L1250.78 562.18 L1252.27 562.26 L1253.76 562.34 L1255.25 562.41 L1256.74 562.49 L1258.23 562.56 L1259.72 562.64 L1261.21 562.71 L1262.70 562.79 L1264.19 562.86 L1265.68 562.93 L1267.17 563.01 L1268.66 563.08 L1270.15 563.15 L1271.64 563.22 L1273.13 563.29 L1274.62 563.37 L1276.11 563.44 L1277.60 563.51 L1279.08 563.58 L1280.57 563.65 L1282.06 563.72 L1283.55 563.79 L1285.04 563.85 L1286.52 563.92 L1288.01 563.99 L1289.50 564.06 L1290.99 564.13 L1292.48 564.20 L1293.97 564.26 L1295.45 564.33 L1296.94 564.40 L1298.43 564.46 L1299.92 564.53 L1301.41 564.60 L1302.90 564.66 L1304.39 564.73 L1305.88 564.80 L1307.37 564.86 L1308.86 564.93 L1310.35 565.00 L1311.84 565.06 L1313.33 565.13 L1314.82 565.19 L1316.31 565.26 L1317.80 565.32 L1319.29 565.39 L1320.79 565.46 L1322.28 565.52 L1323.77 565.59 L1325.26 565.65 L1326.76 565.72 L1328.25 565.78 L1329.75 565.85 L1331.24 565.92 L1332.74 565.98 L1334.23 566.05 L1335.73 566.11 L1337.23 566.18 L1338.72 566.25 L1340.22 566.31 L1341.72 566.38 L1343.22 566.45 L1344.72 566.51 L1346.22 566.58 L1347.72 566.65 L1349.22 566.72 L1350.72 566.78 L1352.22 566.85 L1353.73 566.92 L1355.23 566.99 L1356.74 567.06 L1358.24 567.13 L1359.75 567.20 L1361.26 567.26 L1362.76 567.33 L1364.27 567.40 L1365.78 567.48 L1367.29 567.55 L1368.80 567.62 L1370.31 567.69 L1371.83 567.76 L1373.34 567.83 L1374.85 567.91 L1376.37 567.98 L1377.88 568.05 L1379.40 568.13 L1380.92 568.20 L1382.44 568.27 L1383.96 568.35 L1385.48 568.42 L1387.00 568.50" fill="none" stroke="#FF0000" stroke-width="5.4" stroke-linejoin="round" stroke-linecap="butt"/>
<path d="M138.50 17.00 L140.00 16.99 L141.51 16.98 L143.01 16.97 L144.52 16.96 L146.02 16.95 L147.53 16.94 L149.03 16.93 L150.53 16.93 L152.04 16.92 L153.54 16.91 L155.05 16.90 L156.55 16.89 L158.05 16.89 L159.56 16.88 L161.06 16.87 L162.56 16.87 L164.07 16.86 L165.57 16.86 L167.08 16.85 L168.58 16.85 L170.08 16.84 L171.59 16.84 L173.09 16.83 L174.59 16.83 L176.10 16.82 L177.60 16.82 L179.10 16.82 L180.61 16.81 L182.11 16.81 L183.61 16.81 L185.12 16.80 L186.62 16.80 L188.12 16.80 L189.62 16.80 L191.13 16.80 L192.63 16.80 L194.13 16.79 L195.64 16.79 L197.14 16.79 L198.64 16.79 L200.14 16.79 L201.65 16.79 L203.15 16.79 L204.65 16.79 L206.15 16.79 L207.66 16.80 L209.16 16.80 L210.66 16.80 L212.16 16.80 L213.67 16.80 L215.17 16.80 L216.67 16.81 L218.17 16.81 L219.68 16.81 L221.18 16.81 L222.68 16.82 L224.18 16.82 L225.69 16.82 L227.19 16.83 L228.69 16.83 L230.19 16.83 L231.69 16.84 L233.20 16.84 L234.70 16.85 L236.20 16.85 L237.70 16.85 L239.20 16.86 L240.71 16.86 L242.21 16.87 L243.71 16.88 L245.21 16.88 L246.71 16.89 L248.22 16.89 L249.72 16.90 L251.22 16.90 L252.72 16.91 L254.22 16.92 L255.72 16.92 L257.23 16.93 L258.73 16.94 L260.23 16.94 L261.73 16.95 L263.23 16.96 L264.73 16.97 L266.24 16.97 L267.74 16.98 L269.24 16.99 L270.74 17.00 L272.24 17.01 L273.74 17.01 L275.24 17.02 L276.75 17.03 L278.25 17.04 L279.75 17.05 L281.25 17.06 L282.75 17.07 L284.25 17.08 L285.75 17.08 L287.26 17.09 L288.76 17.10 L290.26 17.11 L291.76 17.12 L293.26 17.13 L294.76 17.14 L296.26 17.15 L297.76 17.16 L299.26 17.17 L300.77 17.18 L302.27 17.19 L303.77 17.20 L305.27 17.21 L306.77 17.22 L308.27 17.23 L309.77 17.24 L311.27 17.25 L312.78 17.27 L314.28 17.28 L315.78 17.29 L317.28 17.30 L318.78 17.31 L320.28 17.32 L321.78 17.33 L323.28 17.34 L324.78 17.35 L326.29 17.36 L327.79 17.38 L329.29 17.39 L330.79 17.40 L332.29 17.41 L333.79 17.42 L335.29 17.43 L336.79 17.44 L338.29 17.46 L339.79 17.47 L341.30 17.48 L342.80 17.49 L344.30 17.50 L345.80 17.52 L347.30 17.53 L348.80 17.54 L350.30 17.55 L351.80 17.56 L353.30 17.57 L354.80 17.59 L356.31 17.60 L357.81 17.61 L359.31 17.62 L360.81 17.63 L362.31 17.65 L363.81 17.66 L365.31 17.67 L366.81 17.68 L368.31 17.69 L369.81 17.71 L371.32 17.72 L372.82 17.73 L374.32 17.74 L375.82 17.75 L377.32 17.77 L378.82 17.78 L380.32 17.79 L381.82 17.80 L383.32 17.81 L384.83 17.82 L386.33 17.84 L387.83 17.85 L389.33 17.86 L390.83 17.87 L392.33 17.88 L393.83 17.89 L395.33 17.91 L396.84 17.92 L398.34 17.93 L399.84 17.94 L401.34 17.95 L402.84 17.96 L404.34 17.97 L405.84 17.99 L407.34 18.00 L408.85 18.01 L410.35 18.02 L411.85 18.03 L413.35 18.04 L414.85 18.05 L416.35 18.06 L417.85 18.07 L419.35 18.08 L420.86 18.09 L422.36 18.10 L423.86 18.12 L425.36 18.13 L426.86 18.14 L428.36 18.15 L429.86 18.16 L431.37 18.17 L432.87 18.18 L434.37 18.19 L435.87 18.20 L437.37 18.21 L438.87 18.21 L440.38 18.22 L441.88 18.23 L443.38 18.24 L444.88 18.25 L446.38 18.26 L447.89 18.27 L449.39 18.28 L450.89 18.29 L452.39 18.30 L453.89 18.30 L455.39 18.31 L456.90 18.32 L458.40 18.33 L459.90 18.34 L461.40 18.34 L462.90 18.35 L464.41 18.36 L465.91 18.37 L467.41 18.37 L468.91 18.38 L470.42 18.39 L471.92 18.40 L473.42 18.40 L474.92 18.41 L476.42 18.42 L477.93 18.42 L479.43 18.43 L480.93 18.43 L482.43 18.44 L483.94 18.45 L485.44 18.45 L486.94 18.46 L488.44 18.46 L489.95 18.47 L491.45 18.47 L492.95 18.48 L494.45 18.48 L495.96 18.48 L497.46 18.49 L498.96 18.49 L500.47 18.50 L501.97 18.50 L503.47 18.50 L504.97 18.51 L506.48 18.51 L507.98 18.51 L509.48 18.52 L510.99 18.52 L512.49 18.52 L513.99 18.52 L515.50 18.52 L517.00 18.53 L518.50 18.53 L520.01 18.53 L521.51 18.53 L523.01 18.53 L524.52 18.53 L526.02 18.53 L527.52 18.53 L529.03 18.53 L530.53 18.53 L532.03 18.53 L533.54 18.53 L535.04 18.53 L536.55 18.53 L538.05 18.53 L539.55 18.53 L541.06 18.52 L542.56 18.52 L544.06 18.52 L545.57 18.52 L547.07 18.51 L548.58 18.51 L550.08 18.51 L551.59 18.50 L553.09 18.50 L554.59 18.50 L556.10 18.49 L557.60 18.49 L559.11 18.48 L560.61 18.48 L562.12 18.47 L563.62 18.47 L565.13 18.46 L566.63 18.46 L568.14 18.45 L569.64 18.44 L571.15 18.44 L572.65 18.43 L574.16 18.42 L575.66 18.41 L577.17 18.41 L578.67 18.40 L580.18 18.39 L581.68 18.38 L583.19 18.37 L584.69 18.36 L586.20 18.35 L587.70 18.34 L589.21 18.33 L590.71 18.32 L592.22 18.31 L593.73 18.30 L595.23 18.29 L596.74 18.27 L598.24 18.26 L599.75 18.25 L601.26 18.24 L602.76 18.22 L604.27 18.21 L605.77 18.20 L607.28 18.18 L608.79 18.17 L610.29 18.16 L611.80 18.15 L613.30 18.13 L614.81 18.12 L616.32 18.11 L617.82 18.11 L619.33 18.10 L620.83 18.10 L622.34 18.09 L623.85 18.09 L625.35 18.09 L626.86 18.09 L628.36 18.10 L629.87 18.11 L631.37 18.12 L632.88 18.13 L634.38 18.15 L635.88 18.17 L637.39 18.19 L638.89 18.22 L640.39 18.25 L641.90 18.29 L643.40 18.33 L644.90 18.37 L646.40 18.42 L647.91 18.47 L649.41 18.53 L650.91 18.59 L652.41 18.66 L653.91 18.73 L655.41 18.81 L656.91 18.89 L658.41 18.98 L659.90 19.08 L661.40 19.18 L662.90 19.29 L664.39 19.40 L665.89 19.52 L667.39 19.65 L668.88 19.79 L670.38 19.93 L671.87 20.08 L673.36 20.23 L674.86 20.40 L676.35 20.57 L677.84 20.75 L679.33 20.94 L680.82 21.14 L682.31 21.34 L683.80 21.55 L685.29 21.78 L686.77 22.01 L688.26 22.25 L689.75 22.50 L691.23 22.76 L692.72 23.03 L694.20 23.31 L695.68 23.60 L697.16 23.90 L698.64 24.20 L700.12 24.53 L701.60 24.86 L703.07 25.20 L704.54 25.56 L706.00 25.94 L707.46 26.33 L708.90 26.74 L710.34 27.16 L711.77 27.61 L713.18 28.07 L714.59 28.56 L715.98 29.07 L717.35 29.60 L718.71 30.15 L720.05 30.73 L721.38 31.34 L722.69 31.97 L723.97 32.63 L725.24 33.32 L726.48 34.04 L727.70 34.79 L728.89 35.58 L730.06 36.39 L731.20 37.24 L732.32 38.13 L733.40 39.05 L734.46 40.00 L735.49 40.99 L736.50 42.01 L737.48 43.06 L738.43 44.14 L739.36 45.25 L740.26 46.38 L741.15 47.54 L742.01 48.73 L742.85 49.94 L743.66 51.17 L744.46 52.42 L745.24 53.69 L745.99 54.98 L746.73 56.28 L747.46 57.60 L748.16 58.94 L748.85 60.29 L749.52 61.65 L750.18 63.02 L750.82 64.40 L751.45 65.79 L752.07 67.19 L752.67 68.59 L753.27 70.00 L753.85 71.41 L754.42 72.83 L754.98 74.26 L755.53 75.68 L756.08 77.11 L756.61 78.55 L757.14 79.98 L757.67 81.42 L758.18 82.86 L758.70 84.30 L759.20 85.75 L759.71 87.19 L760.21 88.64 L760.71 90.09 L761.20 91.53 L761.70 92.98 L762.19 94.42 L762.69 95.86 L763.18 97.30 L763.68 98.74 L764.18 100.18 L764.68 101.61 L765.18 103.04 L765.69 104.47 L766.20 105.89 L766.72 107.31 L767.25 108.73 L767.78 110.14 L768.31 111.54 L768.86 112.94 L769.41 114.33 L769.98 115.71 L770.55 117.09 L771.14 118.46 L771.73 119.82 L772.34 121.18 L772.96 122.53 L773.59 123.86 L774.24 125.19 L774.90 126.51 L775.57 127.82 L776.27 129.11 L776.97 130.40 L777.70 131.68 L778.44 132.94 L779.20 134.19 L779.98 135.43 L780.78 136.66 L781.60 137.88 L782.44 139.08 L783.30 140.26 L784.19 141.44 L785.09 142.60 L786.02 143.75 L786.96 144.88 L787.92 146.00 L788.90 147.12 L789.90 148.22 L790.91 149.31 L791.93 150.39 L792.97 151.47 L794.02 152.54 L795.08 153.60 L796.15 154.65 L797.23 155.70 L798.32 156.74 L799.42 157.77 L800.52 158.81 L801.63 159.83 L802.75 160.86 L803.86 161.88 L804.98 162.91 L806.11 163.93 L807.23 164.95 L808.35 165.97 L809.47 166.99 L810.59 168.01 L811.71 169.03 L812.82 170.06 L813.93 171.09 L815.04 172.11 L816.15 173.14 L817.25 174.17 L818.35 175.21 L819.45 176.24 L820.55 177.27 L821.65 178.31 L822.75 179.34 L823.84 180.38 L824.93 181.42 L826.02 182.46 L827.11 183.49 L828.20 184.53 L829.29 185.57 L830.38 186.61 L831.46 187.66 L832.55 188.70 L833.63 189.74 L834.71 190.78 L835.80 191.82 L836.88 192.87 L837.96 193.91 L839.04 194.95 L840.12 195.99 L841.20 197.04 L842.28 198.08 L843.36 199.12 L844.44 200.16 L845.52 201.21 L846.59 202.25 L847.67 203.30 L848.74 204.34 L849.82 205.39 L850.89 206.43 L851.97 207.48 L853.04 208.53 L854.11 209.57 L855.18 210.62 L856.25 211.67 L857.32 212.72 L858.38 213.77 L859.45 214.83 L860.51 215.88 L861.58 216.93 L862.64 217.99 L863.70 219.05 L864.76 220.11 L865.82 221.16 L866.87 222.22 L867.93 223.29 L868.98 224.35 L870.03 225.42 L871.08 226.48 L872.13 227.55 L873.17 228.62 L874.22 229.69 L875.26 230.76 L876.30 231.84 L877.34 232.91 L878.37 233.99 L879.41 235.07 L880.44 236.16 L881.47 237.24 L882.50 238.33 L883.52 239.41 L884.55 240.51 L885.57 241.60 L886.59 242.69 L887.61 243.79 L888.62 244.89 L889.63 245.99 L890.64 247.10 L891.65 248.21 L892.65 249.31 L893.65 250.43 L894.65 251.54 L895.65 252.66 L896.64 253.78 L897.63 254.90 L898.62 256.03 L899.60 257.16 L900.58 258.29 L901.56 259.43 L902.54 260.57 L903.51 261.71 L904.48 262.85 L905.44 264.00 L906.41 265.15 L907.37 266.31 L908.32 267.46 L909.28 268.62 L910.23 269.79 L911.17 270.96 L912.12 272.13 L913.06 273.30 L913.99 274.48 L914.93 275.65 L915.86 276.84 L916.79 278.02 L917.71 279.21 L918.63 280.40 L919.55 281.60 L920.47 282.79 L921.38 283.99 L922.29 285.20 L923.19 286.40 L924.09 287.61 L924.99 288.82 L925.89 290.03 L926.78 291.25 L927.67 292.47 L928.56 293.69 L929.45 294.91 L930.33 296.14 L931.20 297.36 L932.08 298.59 L932.95 299.83 L933.82 301.06 L934.69 302.30 L935.55 303.54 L936.41 304.78 L937.27 306.02 L938.12 307.27 L938.97 308.52 L939.82 309.77 L940.66 311.02 L941.51 312.27 L942.35 313.53 L943.18 314.79 L944.02 316.05 L944.85 317.31 L945.67 318.57 L946.50 319.84 L947.32 321.10 L948.14 322.37 L948.95 323.64 L949.77 324.91 L950.58 326.19 L951.39 327.46 L952.19 328.74 L952.99 330.02 L953.79 331.30 L954.59 332.58 L955.38 333.86 L956.17 335.14 L956.96 336.43 L957.74 337.71 L958.53 339.00 L959.30 340.29 L960.08 341.58 L960.85 342.87 L961.63 344.16 L962.39 345.46 L963.16 346.75 L963.92 348.05 L964.68 349.34 L965.44 350.64 L966.20 351.94 L966.95 353.24 L967.70 354.54 L968.44 355.84 L969.19 357.14 L969.93 358.44 L970.67 359.74 L971.41 361.05 L972.14 362.35 L972.88 363.66 L973.61 364.97 L974.34 366.27 L975.06 367.58 L975.79 368.89 L976.51 370.20 L977.23 371.51 L977.95 372.82 L978.67 374.13 L979.39 375.44 L980.10 376.75 L980.82 378.06 L981.53 379.38 L982.24 380.69 L982.95 382.00 L983.65 383.32 L984.36 384.63 L985.07 385.95 L985.77 387.27 L986.47 388.58 L987.18 389.90 L987.88 391.22 L988.58 392.53 L989.28 393.85 L989.97 395.17 L990.67 396.49 L991.37 397.81 L992.06 399.12 L992.76 400.44 L993.46 401.76 L994.15 403.08 L994.84 404.40 L995.54 405.72 L996.23 407.04 L996.93 408.36 L997.62 409.68 L998.31 411.00 L999.01 412.32 L999.70 413.64 L1000.39 414.96 L1001.09 416.28 L1001.78 417.61 L1002.47 418.93 L1003.17 420.25 L1003.86 421.57 L1004.56 422.89 L1005.25 424.21 L1005.95 425.53 L1006.64 426.85 L1007.34 428.17 L1008.04 429.49 L1008.74 430.81 L1009.44 432.13 L1010.14 433.45 L1010.84 434.77 L1011.54 436.08 L1012.24 437.40 L1012.95 438.72 L1013.65 440.04 L1014.36 441.36 L1015.07 442.67 L1015.78 443.99 L1016.49 445.31 L1017.20 446.62 L1017.91 447.94 L1018.63 449.26 L1019.34 450.57 L1020.06 451.88 L1020.78 453.20 L1021.50 454.51 L1022.23 455.83 L1022.95 457.14 L1023.68 458.45 L1024.41 459.76 L1025.14 461.07 L1025.88 462.38 L1026.61 463.69 L1027.35 465.00 L1028.09 466.31 L1028.83 467.62 L1029.58 468.92 L1030.32 470.23 L1031.07 471.53 L1031.83 472.84 L1032.58 474.14 L1033.34 475.44 L1034.10 476.75 L1034.86 478.05 L1035.63 479.35 L1036.40 480.65 L1037.17 481.95 L1037.95 483.25 L1038.73 484.54 L1039.51 485.84 L1040.29 487.13 L1041.08 488.43 L1041.87 489.72 L1042.67 491.01 L1043.46 492.30 L1044.27 493.59 L1045.07 494.88 L1045.88 496.17 L1046.69 497.46 L1047.51 498.74 L1048.33 500.03 L1049.15 501.31 L1049.98 502.59 L1050.81 503.88 L1051.65 505.16 L1052.49 506.43 L1053.33 507.71 L1054.18 508.99 L1055.03 510.26 L1055.89 511.54 L1056.75 512.81 L1057.61 514.08 L1058.48 515.34 L1059.36 516.61 L1060.24 517.87 L1061.12 519.13 L1062.01 520.38 L1062.91 521.63 L1063.81 522.87 L1064.72 524.11 L1065.63 525.34 L1066.55 526.57 L1067.48 527.79 L1068.41 529.00 L1069.35 530.21 L1070.29 531.41 L1071.24 532.60 L1072.20 533.78 L1073.16 534.96 L1074.14 536.12 L1075.12 537.28 L1076.10 538.42 L1077.10 539.56 L1078.10 540.68 L1079.11 541.79 L1080.13 542.89 L1081.15 543.98 L1082.19 545.06 L1083.23 546.12 L1084.28 547.17 L1085.34 548.21 L1086.41 549.24 L1087.49 550.25 L1088.58 551.24 L1089.67 552.22 L1090.78 553.19 L1091.90 554.13 L1093.02 555.07 L1094.16 555.98 L1095.30 556.88 L1096.46 557.76 L1097.62 558.63 L1098.80 559.47 L1099.98 560.30 L1101.18 561.11 L1102.39 561.90 L1103.61 562.66 L1104.84 563.41 L1106.08 564.14 L1107.33 564.85 L1108.59 565.53 L1109.87 566.20 L1111.16 566.84 L1112.46 567.47 L1113.76 568.07 L1115.08 568.65 L1116.41 569.22 L1117.75 569.76 L1119.10 570.29 L1120.46 570.79 L1121.83 571.28 L1123.21 571.76 L1124.59 572.21 L1125.99 572.65 L1127.39 573.07 L1128.80 573.48 L1130.22 573.87 L1131.64 574.25 L1133.08 574.61 L1134.52 574.96 L1135.97 575.29 L1137.42 575.61 L1138.88 575.92 L1140.35 576.21 L1141.82 576.50 L1143.30 576.77 L1144.78 577.03 L1146.27 577.27 L1147.76 577.51 L1149.26 577.74 L1150.76 577.96 L1152.26 578.16 L1153.77 578.36 L1155.28 578.55 L1156.80 578.73 L1158.32 578.91 L1159.84 579.07 L1161.37 579.23 L1162.89 579.38 L1164.42 579.53 L1165.95 579.67 L1167.48 579.80 L1169.02 579.93 L1170.55 580.06 L1172.09 580.18 L1173.62 580.29 L1175.16 580.41 L1176.69 580.51 L1178.23 580.62 L1179.76 580.73 L1181.30 580.83 L1182.83 580.93 L1184.36 581.03 L1185.89 581.13 L1187.42 581.23 L1188.95 581.32 L1190.48 581.42 L1192.01 581.51 L1193.53 581.61 L1195.05 581.70 L1196.58 581.79 L1198.10 581.88 L1199.62 581.97 L1201.14 582.06 L1202.65 582.15 L1204.17 582.24 L1205.69 582.33 L1207.20 582.41 L1208.71 582.50 L1210.23 582.58 L1211.74 582.67 L1213.25 582.75 L1214.76 582.83 L1216.27 582.91 L1217.77 582.99 L1219.28 583.07 L1220.79 583.15 L1222.29 583.23 L1223.79 583.31 L1225.30 583.38 L1226.80 583.46 L1228.30 583.53 L1229.80 583.61 L1231.30 583.68 L1232.80 583.75 L1234.30 583.83 L1235.80 583.90 L1237.30 583.97 L1238.79 584.04 L1240.29 584.11 L1241.79 584.18 L1243.28 584.24 L1244.78 584.31 L1246.27 584.38 L1247.76 584.45 L1249.26 584.51 L1250.75 584.58 L1252.24 584.64 L1253.73 584.71 L1255.22 584.77 L1256.71 584.83 L1258.20 584.89 L1259.69 584.96 L1261.18 585.02 L1262.67 585.08 L1264.16 585.14 L1265.65 585.20 L1267.14 585.26 L1268.62 585.32 L1270.11 585.37 L1271.60 585.43 L1273.09 585.49 L1274.57 585.55 L1276.06 585.60 L1277.55 585.66 L1279.03 585.71 L1280.52 585.77 L1282.01 585.82 L1283.49 585.88 L1284.98 585.93 L1286.47 585.99 L1287.95 586.04 L1289.44 586.09 L1290.93 586.15 L1292.41 586.20 L1293.90 586.25 L1295.38 586.30 L1296.87 586.35 L1298.36 586.40 L1299.84 586.45 L1301.33 586.51 L1302.82 586.56 L1304.31 586.61 L1305.79 586.65 L1307.28 586.70 L1308.77 586.75 L1310.26 586.80 L1311.75 586.85 L1313.24 586.90 L1314.73 586.95 L1316.22 587.00 L1317.71 587.04 L1319.20 587.09 L1320.69 587.14 L1322.18 587.19 L1323.67 587.23 L1325.16 587.28 L1326.66 587.33 L1328.15 587.37 L1329.64 587.42 L1331.14 587.47 L1332.63 587.51 L1334.13 587.56 L1335.63 587.61 L1337.12 587.65 L1338.62 587.70 L1340.12 587.75 L1341.62 587.79 L1343.12 587.84 L1344.62 587.88 L1346.12 587.93 L1347.62 587.98 L1349.12 588.02 L1350.63 588.07 L1352.13 588.11 L1353.64 588.16 L1355.14 588.21 L1356.65 588.25 L1358.16 588.30 L1359.67 588.35 L1361.18 588.39 L1362.69 588.44 L1364.20 588.48 L1365.71 588.53 L1367.22 588.58 L1368.74 588.62 L1370.25 588.67 L1371.77 588.72 L1373.29 588.77 L1374.81 588.81 L1376.33 588.86 L1377.85 588.91 L1379.37 588.96 L1380.89 589.01 L1382.42 589.05 L1383.95 589.10 L1385.47 589.15 L1387.00 589.20" fill="none" stroke="#0070C0" stroke-width="5.4" stroke-linejoin="round" stroke-linecap="butt"/>
<line x1="1043.2" y1="101.3" x2="1100.5" y2="101.3" stroke="#00B050" stroke-width="5.8" stroke-linecap="round"/>
<line x1="1043.2" y1="169.3" x2="1100.5" y2="169.3" stroke="#FF0000" stroke-width="5.8" stroke-linecap="round"/>
<line x1="1043.2" y1="238.2" x2="1100.5" y2="238.2" stroke="#0070C0" stroke-width="5.8" stroke-linecap="round"/>
<text x="108.6" y="25.00" font-family="Liberation Sans" font-weight="bold" font-size="31.6" text-anchor="end" textLength="51.2" lengthAdjust="spacingAndGlyphs">100</text>
<text x="108.6" y="154.70" font-family="Liberation Sans" font-weight="bold" font-size="31.6" text-anchor="end">80</text>
<text x="108.6" y="284.30" font-family="Liberation Sans" font-weight="bold" font-size="31.6" text-anchor="end">60</text>
<text x="108.6" y="414.20" font-family="Liberation Sans" font-weight="bold" font-size="31.6" text-anchor="end">40</text>
<text x="108.6" y="544.10" font-family="Liberation Sans" font-weight="bold" font-size="31.6" text-anchor="end">20</text>
<text x="108.6" y="673.60" font-family="Liberation Sans" font-weight="bold" font-size="31.6" text-anchor="end">0</text>
<text x="139.30" y="722.2" font-family="Liberation Sans" font-weight="bold" font-size="33.4" text-anchor="middle">0</text>
<text x="347.18" y="722.2" font-family="Liberation Sans" font-weight="bold" font-size="33.4" text-anchor="middle">100</text>
<text x="555.07" y="722.2" font-family="Liberation Sans" font-weight="bold" font-size="33.4" text-anchor="middle">200</text>
<text x="762.95" y="722.2" font-family="Liberation Sans" font-weight="bold" font-size="33.4" text-anchor="middle">300</text>
<text x="970.83" y="722.2" font-family="Liberation Sans" font-weight="bold" font-size="33.4" text-anchor="middle">400</text>
<text x="1178.72" y="722.2" font-family="Liberation Sans" font-weight="bold" font-size="33.4" text-anchor="middle">500</text>
<text x="1386.60" y="722.2" font-family="Liberation Sans" font-weight="bold" font-size="33.4" text-anchor="middle">600</text>
<text x="599.3" y="788.4" font-family="Liberation Sans" font-weight="bold" font-size="37.2" textLength="295.5" lengthAdjust="spacingAndGlyphs">Temperature (°C)</text>
<text transform="translate(32.3,429.6) rotate(-90)" x="0" y="0" font-family="Liberation Sans" font-weight="bold" font-size="37.2" textLength="189.5" lengthAdjust="spacingAndGlyphs">Weight (%)</text>
<text x="1107.2" y="111.5" font-family="Liberation Sans" font-weight="bold" font-size="37" textLength="184" lengthAdjust="spacingAndGlyphs">(a) TAPAm</text>
<text x="1107.2" y="180.7" font-family="Liberation Sans" font-weight="bold" font-size="37" textLength="173" lengthAdjust="spacingAndGlyphs">(b) TAPOx</text>
<text x="1107.2" y="249.8" font-family="Liberation Sans" font-weight="bold" font-size="37" textLength="159" lengthAdjust="spacingAndGlyphs">(c) TAPEs</text>
</svg>
</body></html>
